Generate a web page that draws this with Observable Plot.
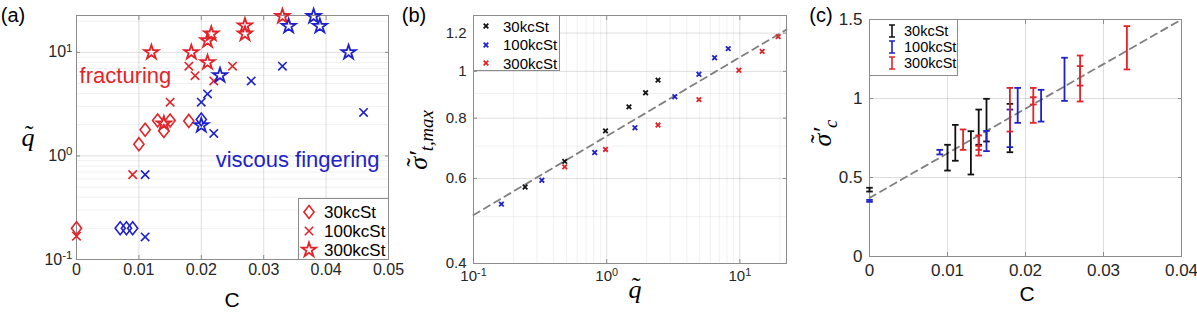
<!DOCTYPE html>
<html><head><meta charset="utf-8">
<script src="https://cdn.jsdelivr.net/npm/d3@7"></script>
<script src="https://cdn.jsdelivr.net/npm/@observablehq/plot@0.6"></script>
<style>
body{margin:0;background:#fff;}
#wrap{position:relative;width:1197px;height:314px;overflow:hidden;font-family:"Liberation Sans",Arial,sans-serif;color:#262626;}
.panel{position:absolute;top:0;}
.lbl{position:absolute;white-space:nowrap;color:#000;line-height:1;}
.math{font-family:"Liberation Serif","DejaVu Serif",serif;font-style:italic;}
.tw{position:relative;display:inline-block;}
.tw::after{content:"\02DC";position:absolute;left:0.08em;right:0;top:-0.12em;text-align:center;font-style:normal;}
.legend{position:absolute;background:#fff;border:1px solid #8c8c8c;box-sizing:border-box;}
.legend svg{position:absolute;overflow:visible;}
.legend span{position:absolute;color:#000;line-height:1;}
</style></head>
<body><div id="wrap"></div>
<script>
const RED = "#e3232a", BLUE = "#1e22c8", BLACK = "#111111", GREY = "#808080";
const LABELS = ["30kcSt", "100kcSt", "300kcSt"];

// ---------- Panel (a): q~ vs C ----------
const aDiaRedC  = [0, 0.010, 0.011, 0.013, 0.014, 0.015, 0.018];
const aDiaRedQ  = [0.20, 1.30, 1.79, 2.20, 1.74, 2.20, 2.18];
const aDiaBlueC = [0.007, 0.008, 0.009, 0.020];
const aDiaBlueQ = [0.20, 0.20, 0.20, 2.25];
const aCrsRedC  = [0, 0.009, 0.015, 0.018, 0.019, 0.022, 0.025];
const aCrsRedQ  = [0.168, 0.66, 3.3, 7.35, 5.95, 5.3, 7.35];
const aCrsBlueC = [0.011, 0.011, 0.020, 0.021, 0.022, 0.028, 0.033, 0.046];
const aCrsBlueQ = [0.66, 0.165, 3.3, 3.97, 1.65, 5.3, 7.35, 2.63];
const aStarRedC = [0.012, 0.014, 0.0184, 0.021, 0.021, 0.0216, 0.027, 0.027, 0.033];
const aStarRedQ = [10, 2.05, 10, 8.0, 13.0, 15.1, 15.1, 18.1, 22.3];
const aStarBlueC = [0.020, 0.023, 0.034, 0.038, 0.039, 0.0436];
const aStarBlueQ = [1.97, 6.0, 17.9, 22.3, 17.9, 10.0];
const aXTicks = [0, 0.01, 0.02, 0.03, 0.04, 0.05];
const aYTicks = [0.1, 1, 10];
const aYTickText = ["10^-1", "10^0", "10^1"];
const aYMinor = [0.2,0.3,0.4,0.5,0.6,0.7,0.8,0.9,2,3,4,5,6,7,8,9,20];
const annText = ["fracturing", "viscous fingering"];
const annC = [0.0005, 0.0223];
const annQ = [5.9, 0.915];
const annColor = [RED, BLUE];

// ---------- Panel (b): sigma'_t,max vs q~ ----------
const bBlackQ = [0.244, 0.484, 0.98, 1.47, 1.96, 2.43];
const bBlackS = [0.576, 0.651, 0.753, 0.844, 0.903, 0.959];
const bBlueQ  = [0.162, 0.326, 0.813, 1.63, 3.25, 4.93, 6.46, 8.18];
const bBlueS  = [0.531, 0.595, 0.679, 0.764, 0.886, 0.986, 1.067, 1.114];
const bRedQ   = [0.484, 0.98, 2.43, 4.93, 9.83, 14.7, 19.4];
const bRedS   = [0.634, 0.689, 0.774, 0.874, 1.005, 1.10, 1.18];
const bFitQ   = [0.1, 22.4];
const bFitS   = [0.504, 1.22];
const bXTicks = [0.1, 1, 10];
const bXTickText = ["10^-1", "10^0", "10^1"];
const bXMinor = [0.2,0.3,0.4,0.5,0.6,0.7,0.8,0.9,2,3,4,5,6,7,8,9,20];
const bYTicks = [0.4, 0.6, 0.8, 1, 1.2];
const bYMinor = [0.5, 0.7, 0.9];

// ---------- Panel (c): sigma'_c vs C with error bars ----------
const cBlackC  = [0, 0.010, 0.011, 0.013, 0.014, 0.015, 0.018];
const cBlackLo = [0.411, 0.544, 0.606, 0.519, 0.707, 0.728, 0.660];
const cBlackHi = [0.435, 0.707, 0.833, 0.793, 0.930, 0.998, 0.966];
const cBlueC   = [0, 0.009, 0.015, 0.018, 0.019, 0.022, 0.025];
const cBlueLo  = [0.346, 0.646, 0.667, 0.692, 0.846, 0.854, 0.985];
const cBlueHi  = [0.358, 0.675, 0.795, 0.930, 1.067, 1.055, 1.258];
const cRedC    = [0.012, 0.014, 0.014, 0.018, 0.021, 0.021, 0.027, 0.027, 0.033];
const cRedLo   = [0.675, 0.639, 0.675, 0.791, 0.846, 0.962, 0.981, 1.082, 1.184];
const cRedHi   = [0.804, 0.766, 0.700, 1.067, 1.008, 1.067, 1.205, 1.272, 1.458];
const cFitC = [0, 0.04];
const cFitS = [0.371, 1.5];
const cXTicks = [0, 0.01, 0.02, 0.03, 0.04];
const cYTicks = [0, 0.5, 1, 1.5];

// ---------- symbols ----------
function sym(fn){ return {draw(ctx, size){ const r = Math.sqrt(size / Math.PI); fn(ctx, r); }}; }
const diamond = sym((c, r) => { const w = r * 0.78; c.moveTo(0, -r); c.lineTo(w, 0); c.lineTo(0, r); c.lineTo(-w, 0); c.closePath(); });
const cross = sym((c, r) => { c.moveTo(-r, -r); c.lineTo(r, r); c.moveTo(-r, r); c.lineTo(r, -r); });
const star = sym((c, r) => { const ri = r * 0.382; for (let i = 0; i < 10; i++) { const a = -Math.PI / 2 + i * Math.PI / 5; const rr = i % 2 ? ri : r; const x = rr * Math.cos(a), y = rr * Math.sin(a); if (i) c.lineTo(x, y); else c.moveTo(x, y); } c.closePath(); });
const cap = sym((c, r) => { c.moveTo(-r, 0); c.lineTo(r, 0); });

const idx = a => d3.range(a.length);
const pts = (X, Y, symbol, color, r, sw) => Plot.dot(idx(X), {x: i => X[i], y: i => Y[i], symbol, r, stroke: color, fill: "none", strokeWidth: sw});
const pair = (X, Y) => idx(X).map(i => ({x: X[i], y: Y[i]}));

const GRID = {stroke: "#000", strokeOpacity: 0.13};
const MINOR = {stroke: "#000", strokeOpacity: 0.06};
const AX = "#8c8c8c";
const frame = Plot.frame({stroke: AX});
const fmtDec = d => String(d);
const lookup = (ticks, text) => d => text[ticks.indexOf(d)];
const NS = "http://www.w3.org/2000/svg";

const wrap = document.getElementById("wrap");
function place(svg, left){
  // turn "10^k" tick labels into a base with a raised exponent
  svg.querySelectorAll("text").forEach(t => {
    const m = t.textContent.match(/^10\^(.+)$/);
    if (m) {
      t.textContent = "10";
      const ts = document.createElementNS(NS, "tspan");
      ts.setAttribute("dy", "-0.5em"); ts.setAttribute("font-size", "0.72em");
      ts.textContent = m[1];
      t.appendChild(ts);
    }
  });
  const d = document.createElement("div"); d.className = "panel"; d.style.left = left + "px"; d.appendChild(svg); wrap.appendChild(d);
}

// Panel (a)
place(Plot.plot({
  width: 400, height: 314, marginLeft: 76, marginRight: 12, marginTop: 15, marginBottom: 55,
  style: {fontFamily: "'Liberation Sans', Arial, sans-serif", fontSize: "16px", color: "#262626", background: "transparent", overflow: "visible"},
  x: {domain: [0, 0.05]},
  y: {type: "log", domain: [0.1, 22.7]},
  marks: [
    Plot.gridY(aYMinor, MINOR),
    Plot.gridY(aYTicks, GRID),
    Plot.gridX(aXTicks, GRID),
    frame,
    Plot.axisX(aXTicks, {tickSize: -4, tickPadding: 8, tickFormat: fmtDec, label: null, stroke: AX}),
    Plot.axisX(aXTicks, {anchor: "top", tickSize: -4, tickFormat: () => "", label: null, stroke: AX}),
    Plot.axisY(aYTicks, {tickSize: -4, tickPadding: 8, tickFormat: lookup(aYTicks, aYTickText), label: null, stroke: AX}),
    Plot.axisY(aYTicks, {anchor: "right", tickSize: -4, tickFormat: () => "", label: null, stroke: AX}),
    pts(aDiaRedC, aDiaRedQ, diamond, RED, 6.5, 1.6),
    pts(aDiaBlueC, aDiaBlueQ, diamond, BLUE, 6.5, 1.6),
    pts(aCrsRedC, aCrsRedQ, cross, RED, 4.2, 1.6),
    pts(aCrsBlueC, aCrsBlueQ, cross, BLUE, 4.2, 1.6),
    pts(aStarRedC, aStarRedQ, star, RED, 7.5, 1.8),
    pts(aStarBlueC, aStarBlueQ, star, BLUE, 7.5, 1.8),
    Plot.text(idx(annText), {x: i => annC[i], y: i => annQ[i], text: i => annText[i], fill: i => annColor[i], fontSize: 22, textAnchor: "start"})
  ]
}), 0);

// Panel (b)
place(Plot.plot({
  width: 400, height: 314, marginLeft: 73, marginRight: 14, marginTop: 15, marginBottom: 51,
  style: {fontFamily: "'Liberation Sans', Arial, sans-serif", fontSize: "15px", color: "#262626", background: "transparent", overflow: "visible"},
  x: {type: "log", domain: [0.1, 22.4]},
  y: {type: "log", domain: [0.4, 1.305]},
  marks: [
    Plot.gridX(bXMinor, MINOR),
    Plot.gridY(bYMinor, MINOR),
    Plot.gridX(bXTicks, GRID),
    Plot.gridY(bYTicks, GRID),
    frame,
    Plot.axisX(bXTicks, {tickSize: -4, tickPadding: 11, tickFormat: lookup(bXTicks, bXTickText), label: null, stroke: AX}),
    Plot.axisX(bXTicks, {anchor: "top", tickSize: -4, tickFormat: () => "", label: null, stroke: AX}),
    Plot.axisY(bYTicks, {tickSize: -4, tickPadding: 11, tickFormat: fmtDec, label: null, stroke: AX}),
    Plot.axisY(bYTicks, {anchor: "right", tickSize: -4, tickFormat: () => "", label: null, stroke: AX}),
    Plot.line(pair(bFitQ, bFitS), {x: "x", y: "y", stroke: GREY, strokeWidth: 1.8, strokeDasharray: "7,5"}),
    pts(bBlackQ, bBlackS, cross, BLACK, 2.3, 1.8),
    pts(bBlueQ, bBlueS, cross, BLUE, 2.3, 1.8),
    pts(bRedQ, bRedS, cross, RED, 2.3, 1.8)
  ]
}), 400);

// Panel (c)
const bars = (X, Lo, Hi, color) => [
  Plot.ruleX(idx(X), {x: i => X[i], y1: i => Lo[i], y2: i => Hi[i], stroke: color, strokeWidth: 1.8}),
  pts(X, Lo, cap, color, 3.3, 1.8),
  pts(X, Hi, cap, color, 3.3, 1.8)
];
place(Plot.plot({
  width: 397, height: 314, marginLeft: 69, marginRight: 16, marginTop: 19, marginBottom: 58,
  style: {fontFamily: "'Liberation Sans', Arial, sans-serif", fontSize: "17px", color: "#262626", background: "transparent", overflow: "visible"},
  x: {domain: [0, 0.04]},
  y: {domain: [0, 1.5]},
  marks: [
    Plot.gridX(cXTicks, GRID),
    Plot.gridY(cYTicks, GRID),
    frame,
    Plot.axisX(cXTicks, {tickSize: -4, tickPadding: 11, tickFormat: fmtDec, label: null, stroke: AX}),
    Plot.axisX(cXTicks, {anchor: "top", tickSize: -4, tickFormat: () => "", label: null, stroke: AX}),
    Plot.axisY(cYTicks, {tickSize: -4, tickPadding: 11, tickFormat: fmtDec, label: null, stroke: AX}),
    Plot.axisY(cYTicks, {anchor: "right", tickSize: -4, tickFormat: () => "", label: null, stroke: AX}),
    Plot.line(pair(cFitC, cFitS), {x: "x", y: "y", stroke: GREY, strokeWidth: 1.8, strokeDasharray: "7,5"}),
    ...bars(cBlackC, cBlackLo, cBlackHi, BLACK),
    ...bars(cBlueC, cBlueLo, cBlueHi, BLUE),
    ...bars(cRedC, cRedLo, cRedHi, RED)
  ]
}), 800);

// ---------- text overlays ----------
function label(html, x, y, size, cls, rot){
  const d = document.createElement("div");
  d.className = "lbl" + (cls ? " " + cls : "");
  d.innerHTML = html;
  d.style.left = x + "px"; d.style.top = y + "px"; d.style.fontSize = size + "px";
  d.style.transform = "translate(-50%,-50%)" + (rot ? " rotate(-90deg)" : "");
  wrap.appendChild(d);
}
const tilde = ch => `<span class="tw">${ch}</span>`;
label("(a)", 13, 15, 20);
label("(b)", 414, 15, 20);
label("(c)", 821, 15, 20);
label("C", 232, 299, 21);
label("C", 1027, 293, 21);
label(tilde("q"), 28, 138, 26, "math");
label(tilde("q"), 635, 290, 26, "math");
label(tilde("\u03C3") + "\u2032<sub style='font-size:0.72em'>t,max</sub>", 421, 140, 26, "math", true);
label(tilde("\u03C3") + "\u2032<sub style='font-size:0.72em'>c</sub>", 825, 133, 26, "math", true);

// ---------- legends ----------
function legend(left, top, w, h, rowsY, iconX, textX, fontSize, icons){
  const L = document.createElement("div");
  L.className = "legend";
  Object.assign(L.style, {left: left + "px", top: top + "px", width: w + "px", height: h + "px"});
  LABELS.forEach((t, i) => {
    const s = document.createElementNS(NS, "svg");
    s.setAttribute("width", 1); s.setAttribute("height", 1);
    s.style.left = iconX + "px"; s.style.top = rowsY[i] + "px";
    const p = document.createElementNS(NS, "path");
    p.setAttribute("d", icons[i].d); p.setAttribute("fill", "none");
    p.setAttribute("stroke", icons[i].color); p.setAttribute("stroke-width", icons[i].sw);
    s.appendChild(p); L.appendChild(s);
    const sp = document.createElement("span");
    sp.textContent = t; sp.style.left = textX + "px"; sp.style.top = (rowsY[i] - fontSize * 0.5) + "px";
    sp.style.fontSize = fontSize + "px";
    L.appendChild(sp);
  });
  wrap.appendChild(L);
}
const symPath = (s, r) => d3.symbol(s, Math.PI * r * r)();
legend(298, 198, 91, 62, [13, 32, 51], 10, 25, 17, [
  {d: symPath(diamond, 6.5), color: RED, sw: 1.6},
  {d: symPath(cross, 4.2), color: RED, sw: 1.6},
  {d: symPath(star, 7.5), color: RED, sw: 1.8}]);
legend(473, 15, 87, 56, [10, 28.5, 47], 12, 29, 15, [
  {d: symPath(cross, 2.3), color: BLACK, sw: 1.8},
  {d: symPath(cross, 2.3), color: BLUE, sw: 1.8},
  {d: symPath(cross, 2.3), color: RED, sw: 1.8}]);
const ibar = "M-3,-6L3,-6M0,-6L0,6M-3,6L3,6";
legend(869, 19, 89, 57, [11, 27, 43], 22, 34, 14.5, [
  {d: ibar, color: BLACK, sw: 1.6},
  {d: ibar, color: BLUE, sw: 1.6},
  {d: ibar, color: RED, sw: 1.6}]);
</script></body></html>
